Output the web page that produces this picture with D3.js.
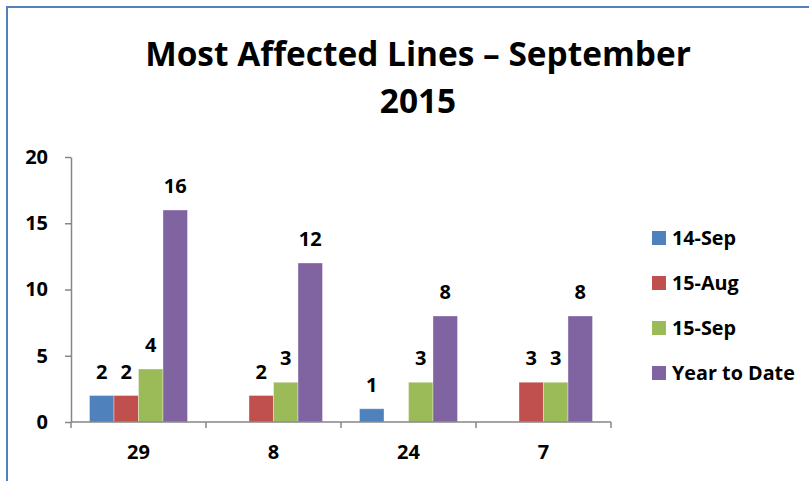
<!DOCTYPE html>
<html>
<head>
<meta charset="utf-8">
<script src="https://cdn.jsdelivr.net/npm/d3@7"></script>
<style>
  html, body { margin: 0; padding: 0; background: #fff; }
  svg { display: block; }
  text { font-family: "Open Sans", Lato, sans-serif; font-weight: bold; fill: #000; }
</style>
</head>
<body>
<svg id="chart" width="809" height="481"></svg>
<script>
// Lines and their incident counts per period
const lines = ["29", "8", "24", "7"];
const seriesNames = ["14-Sep", "15-Aug", "15-Sep", "Year to Date"];
const sep14 = [2, 0, 1, 0];
const aug15 = [2, 2, 0, 3];
const sep15 = [4, 3, 3, 3];
const yearToDate = [16, 12, 8, 8];
const yTicks = [0, 5, 10, 15, 20];
const colors = ["#4f81bd", "#c0504d", "#9bbb59", "#8064a2"];
const titleLines = ["Most Affected Lines \u2013 September", "2015"];

const seriesValues = [sep14, aug15, sep15, yearToDate];
const rows = lines.map((line, i) => ({
  line,
  values: seriesNames.map((s, k) => ({ series: s, k, value: seriesValues[k][i] }))
}));

const FONT = '"Open Sans", Lato, sans-serif';
const svg = d3.select("#chart");

// Scale a group of texts so that the reference node spans the given width
function fitWidth(selection, node, base, target) {
  const w = node.getComputedTextLength();
  selection.style("font-size", (base * target / w) + "px");
}

// Outer frame
svg.append("rect")
  .attr("x", 7).attr("y", 7)
  .attr("width", 830).attr("height", 500)
  .attr("fill", "none")
  .attr("stroke", "#4f81bd")
  .attr("stroke-width", 2);

// Title
const title = svg.append("g");
titleLines.forEach((t, i) => {
  title.append("text")
    .attr("x", 418)
    .attr("y", 66 + i * 47)
    .attr("text-anchor", "middle")
    .style("font-size", "32px")
    .text(t);
});
fitWidth(title.selectAll("text"), title.select("text").node(), 32, 546);

// Plot area
const plot = { left: 71, right: 611, top: 157, bottom: 422 };

const x0 = d3.scaleBand()
  .domain(lines)
  .range([plot.left, plot.right])
  .padding(0);

const x1 = d3.scaleBand()
  .domain(seriesNames)
  .range([0, x0.bandwidth()])
  .paddingInner(0)
  .paddingOuter(0.755);

const y = d3.scaleLinear()
  .domain([0, 20])
  .range([plot.bottom, plot.top]);

const axisColor = "#868686";

// Y axis
const yAxis = svg.append("g")
  .attr("transform", `translate(${plot.left},0)`)
  .call(d3.axisLeft(y).tickValues(yTicks).tickSize(6).tickPadding(17).tickSizeOuter(0));
yAxis.select(".domain").attr("stroke", axisColor).attr("stroke-width", 1.5);
yAxis.selectAll(".tick line").attr("stroke", axisColor).attr("stroke-width", 1.5);
yAxis.selectAll(".tick text")
  .style("font-size", "20px")
  .style("font-family", FONT)
  .style("font-weight", "bold")
  .attr("fill", "#000");

// Bars
const groups = svg.append("g")
  .selectAll("g")
  .data(rows)
  .join("g")
  .attr("transform", d => `translate(${x0(d.line)},0)`);

groups.selectAll("rect")
  .data(d => d.values.filter(v => v.value > 0))
  .join("rect")
  .attr("x", d => x1(d.series))
  .attr("y", d => y(d.value))
  .attr("width", x1.bandwidth())
  .attr("height", d => y(0) - y(d.value))
  .attr("fill", d => colors[d.k])
  .attr("stroke", "#ffffff")
  .attr("stroke-opacity", 0.35)
  .attr("stroke-width", 1);

groups.selectAll("text")
  .data(d => d.values.filter(v => v.value > 0))
  .join("text")
  .attr("x", d => x1(d.series) + x1.bandwidth() / 2)
  .attr("y", d => y(d.value) - 17)
  .attr("text-anchor", "middle")
  .style("font-size", "20px")
  .text(d => d.value);

// X axis: baseline, boundary ticks and category labels
const xAxis = svg.append("g")
  .attr("transform", `translate(0,${plot.bottom})`)
  .call(d3.axisBottom(x0).tickSize(0).tickPadding(23));
xAxis.select(".domain").remove();
xAxis.selectAll(".tick text")
  .style("font-size", "20px")
  .style("font-family", FONT)
  .style("font-weight", "bold")
  .attr("fill", "#000");

xAxis.append("line")
  .attr("x1", plot.left).attr("x2", plot.right)
  .attr("y1", 0).attr("y2", 0)
  .attr("stroke", axisColor).attr("stroke-width", 1.5);

const bounds = lines.map(l => x0(l)).concat([x0(lines[lines.length - 1]) + x0.bandwidth()]);
xAxis.selectAll("line.bound")
  .data(bounds)
  .join("line")
  .attr("class", "bound")
  .attr("x1", d => d).attr("x2", d => d)
  .attr("y1", 0).attr("y2", 6)
  .attr("stroke", axisColor).attr("stroke-width", 1.5);

// Legend
const legend = svg.append("g")
  .selectAll("g")
  .data(seriesNames)
  .join("g")
  .attr("transform", (d, i) => `translate(652,${238 + i * 45})`);

legend.append("rect")
  .attr("x", 0).attr("y", -7)
  .attr("width", 14).attr("height", 14)
  .attr("fill", (d, i) => colors[i]);

const legendText = legend.append("text")
  .attr("x", 20)
  .attr("y", 0)
  .attr("dy", "0.36em")
  .style("font-size", "18px")
  .text(d => d);
fitWidth(legendText, legendText.nodes()[3], 18, 123);
</script>
</body>
</html>
